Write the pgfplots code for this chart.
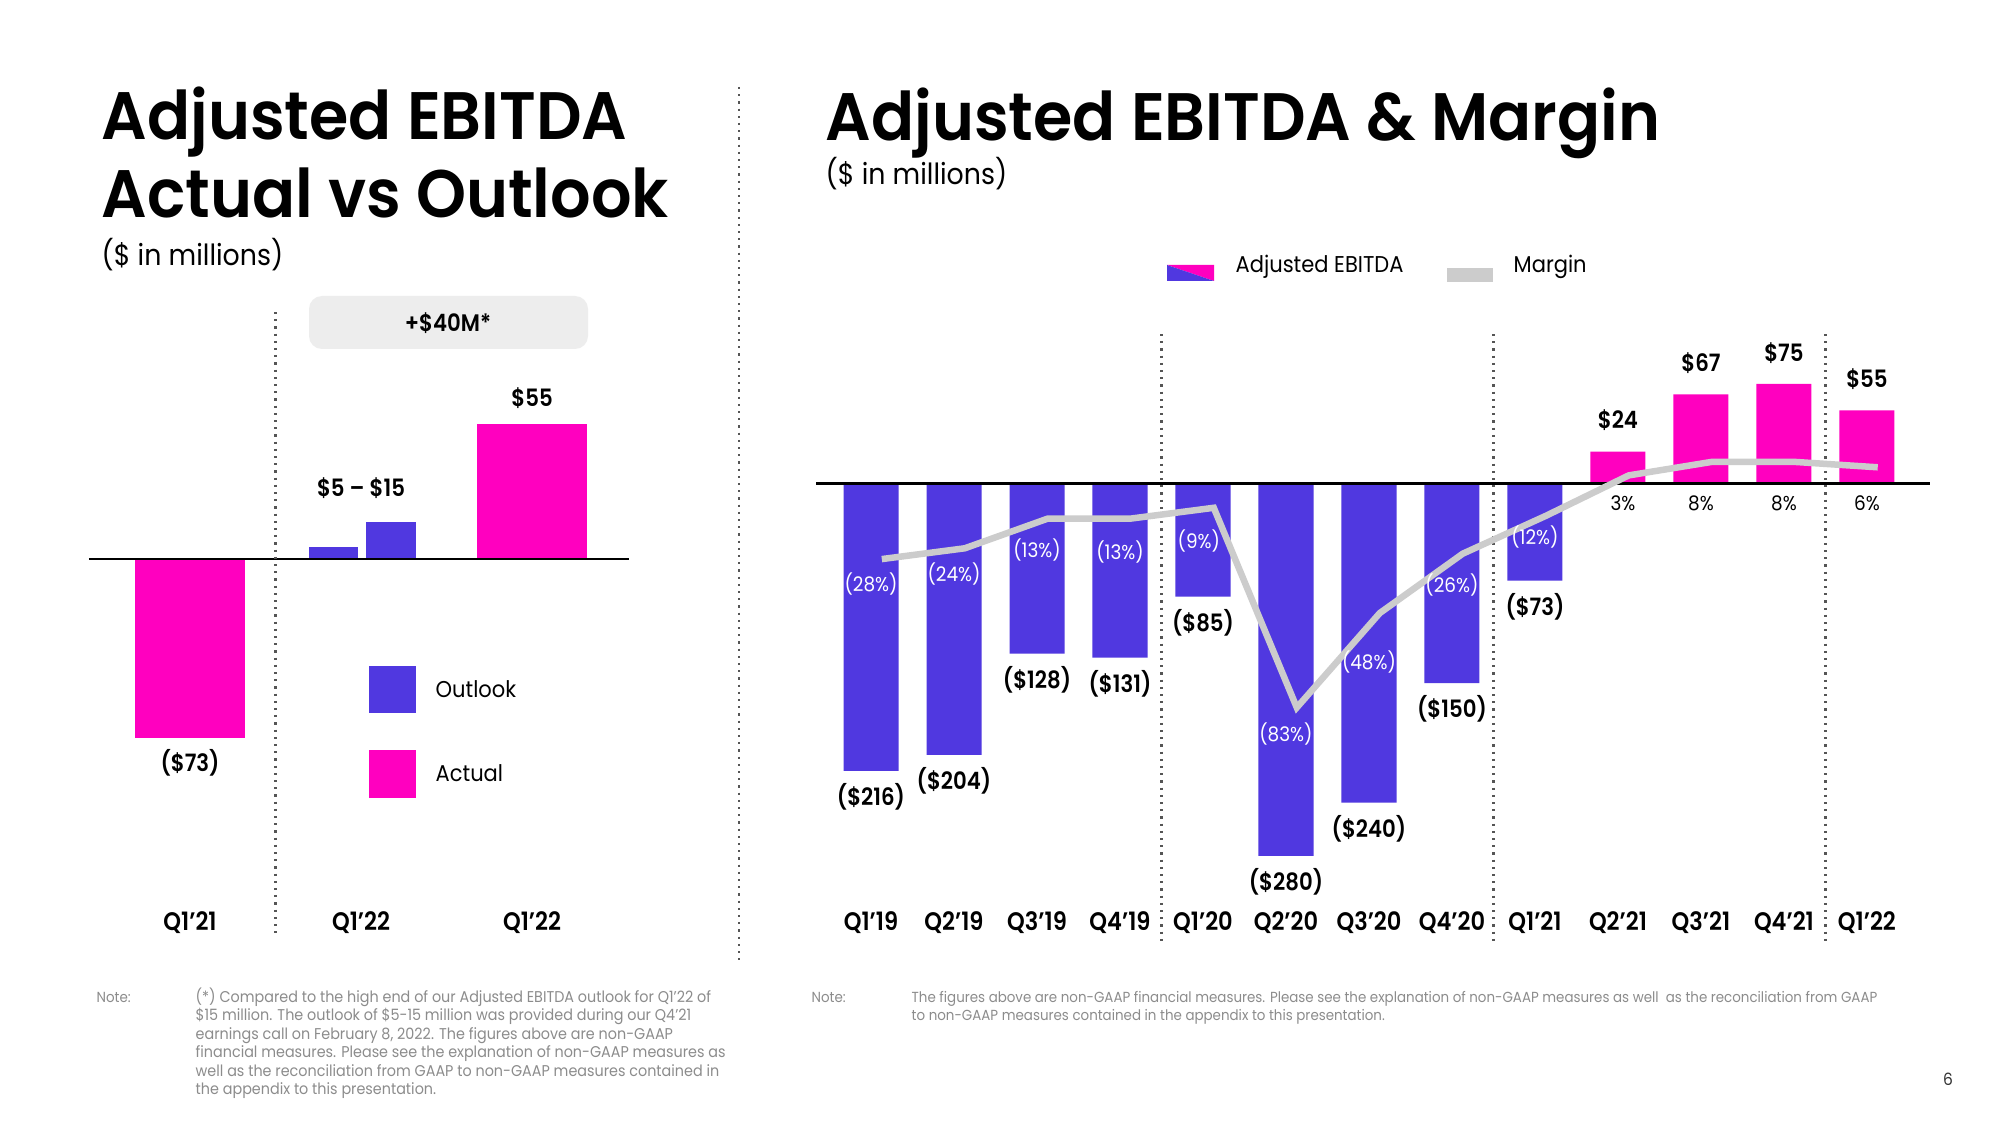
\documentclass[border=0pt]{standalone}
\usepackage{pgfplots}
\pgfplotsset{compat=1.18}
\usepackage{fontspec}
\setmainfont{Poppins}[FakeStretch=0.92]
\newfontfamily\titlefam{Poppins}[UprightFont={* SemiBold}, BoldFont={* SemiBold}, FakeStretch=0.948]
\newfontfamily\sbfam{Poppins}[UprightFont={* SemiBold}, BoldFont={* SemiBold}, FakeStretch=0.89]
\definecolor{ublue}{HTML}{5038E0}
\definecolor{upink}{HTML}{FF00BF}
\definecolor{ugray}{HTML}{CCCCCC}
\definecolor{notegray}{HTML}{8C8C8C}
\definecolor{boxgray}{HTML}{EDEDED}
\definecolor{dotgray}{HTML}{555555}
\newcommand\titlefont{\fontsize{19.1}{22}\selectfont\titlefam}
\newcommand\subfont{\fontsize{8.3}{9}\selectfont}
\newcommand\tickfont{\fontsize{7.2}{8}\selectfont\sbfam}
\newcommand\valfont{\fontsize{6.8}{8}\selectfont\sbfam}
\newcommand\pctfont{\fontsize{5.7}{7}\selectfont}
\newcommand\legfont{\fontsize{6.5}{8}\selectfont}
\newcommand\notefont{\fontsize{4.15}{5.2}\selectfont}
\newcommand\lnotefont{\fontsize{4.44}{5.2}\selectfont}
\tikzset{dots/.style={dotgray, line width=0.022cm, dash pattern=on 0.022cm off 0.05cm}}
\pgfplotsset{slide/.style={anchor=south west, scale only axis, axis line style={draw=none},
  major tick length=0pt, ytick=\empty, clip=false,
  xticklabel style={anchor=center, inner sep=0pt, font=\tickfont}}}
\begin{document}
\begin{tikzpicture}
\useasboundingbox[fill=white] (0,0) rectangle (20,11.25);

% ---------- titles ----------
\node[anchor=base west, inner sep=0] at (1.01,9.85) {\titlefont Adjusted EBITDA};
\node[anchor=base west, inner sep=0] at (1.01,9.07) {\titlefont Actual vs Outlook};
\node[anchor=west, inner sep=0] at (1.01,8.70) {\subfont (\$ in millions)};
\node[anchor=base west, inner sep=0] at (8.25,9.84) {\titlefont Adjusted EBITDA \& Margin};
\node[anchor=west, inner sep=0] at (8.25,9.515) {\subfont (\$ in millions)};

% separator
\draw[dots] (7.39,10.38) -- (7.39,1.62);

% ---------- left chart ----------
\fill[boxgray, rounded corners=0.13cm] (3.09,8.29) rectangle (5.88,7.76);
\node[inner sep=0] at (4.48,8.02) {\valfont +\$40M*};

\begin{axis}[slide, at={(0.89cm,2.02cm)}, width=5.40cm, height=5.355cm,
  xmin=-0.591, xmax=2.567, ymin=-148.6, ymax=70,
  xtick={0,1,2}, xticklabels={Q1’21,Q1’22,Q1’22}]
\addplot[ybar, bar width=0.643, bar shift=0, fill=upink, draw=none,
  nodes near coords, point meta=explicit symbolic,
  nodes near coords style={anchor=center, yshift=-0.25cm, font=\valfont, text=black}]
  coordinates {(0,-73) [(\$73)]};
\addplot[ybar, bar width=0.292, bar shift=-0.161, fill=ublue, draw=none] coordinates {(1,5)};
\addplot[ybar, bar width=0.292, bar shift=0.175, fill=ublue, draw=none] coordinates {(1,15)};
\addplot[ybar, bar width=0.643, bar shift=0, fill=upink, draw=none,
  nodes near coords, point meta=explicit symbolic,
  nodes near coords style={anchor=center, yshift=0.26cm, font=\valfont, text=black}]
  coordinates {(2,55) [\$55]};
\node[font=\valfont, inner sep=0, yshift=0.34cm] at (axis cs:1,15) {\$5 – \$15};
\draw[black, line width=0.025cm] (axis cs:-0.591,0) -- (axis cs:2.567,0);
\draw[dots] (axis cs:0.5,100.8) -- (axis cs:0.5,-154.3);
\end{axis}

% left legend
\fill[ublue] (3.69,4.59) rectangle (4.16,4.12);
\node[anchor=west, inner sep=0] at (4.35,4.36) {\legfont Outlook};
\fill[upink] (3.69,3.75) rectangle (4.16,3.27);
\node[anchor=west, inner sep=0] at (4.35,3.52) {\legfont Actual};

% ---------- right chart ----------
\begin{axis}[slide, at={(8.16cm,2.02cm)}, width=11.14cm, height=5.725cm,
  xmin=-0.663, xmax=12.76, ymin=-330.45, ymax=100,
  xtick={0,...,12},
  xticklabels={Q1’19,Q2’19,Q3’19,Q4’19,Q1’20,Q2’20,Q3’20,Q4’20,Q1’21,Q2’21,Q3’21,Q4’21,Q1’22}]
\addplot[ybar, bar width=0.663, bar shift=0, fill=ublue, draw=none,
  nodes near coords, point meta=explicit symbolic,
  nodes near coords style={anchor=center, yshift=-0.26cm, font=\valfont, text=black}]
  coordinates {(0,-216) [(\$216)] (1,-204) [(\$204)] (2,-128) [(\$128)] (3,-131) [(\$131)]
    (4,-85) [(\$85)] (5,-280) [(\$280)] (6,-240) [(\$240)] (7,-150) [(\$150)] (8,-73) [(\$73)]};
\addplot[ybar, bar width=0.663, bar shift=0, fill=upink, draw=none,
  nodes near coords, point meta=explicit symbolic,
  nodes near coords style={anchor=center, yshift=0.31cm, font=\valfont, text=black}]
  coordinates {(9,24) [\$24] (10,67) [\$67] (11,75) [\$75] (12,55) [\$55]};
\draw[black, line width=0.025cm] (axis cs:-0.663,0) -- (axis cs:12.76,0);
\draw[dots] (axis cs:3.5,112.4) -- (axis cs:3.5,-346.2);
\draw[dots] (axis cs:7.5,112.4) -- (axis cs:7.5,-346.2);
\draw[dots] (axis cs:11.5,112.4) -- (axis cs:11.5,-346.2);
\end{axis}

% margin line (own scale)
\begin{axis}[slide, hide axis, at={(8.16cm,2.02cm)}, width=11.14cm, height=5.725cm,
  xmin=-0.793, xmax=12.63, ymin=-162.8, ymax=49.26]
\addplot[ugray, line width=0.065cm, mark=none]
  coordinates {(0,-28) (1,-24) (2,-13) (3,-13) (4,-9) (5,-83) (6,-48) (7,-26) (8,-12)
    (9,3) (10,8) (11,8) (12,6)};
\begin{scope}[every node/.style={inner sep=0, font=\pctfont, xshift=-0.108cm}]
\node[white] at (axis cs:0,-37.2) {(28\%)};
\node[white] at (axis cs:1,-33.5) {(24\%)};
\node[white] at (axis cs:2,-24.6) {(13\%)};
\node[white] at (axis cs:3,-25.4) {(13\%)};
\node[white] at (axis cs:3.95,-21.3) {(9\%)};
\node[white] at (axis cs:5,-92.8) {(83\%)};
\node[white] at (axis cs:6,-66.1) {(48\%)};
\node[white] at (axis cs:7,-37.6) {(26\%)};
\node[white] at (axis cs:8,-19.8) {(12\%)};
\node[black] at (axis cs:9.06,-7.2) {3\%};
\node[black] at (axis cs:10,-7.2) {8\%};
\node[black] at (axis cs:11,-7.2) {8\%};
\node[black] at (axis cs:12,-7.2) {6\%};
\end{scope}
\end{axis}

% right legend
\fill[upink] (11.67,8.60) -- (12.14,8.60) -- (12.14,8.44) -- cycle;
\fill[ublue] (11.67,8.60) -- (12.14,8.44) -- (11.67,8.44) -- cycle;
\node[anchor=west, inner sep=0] at (12.35,8.58) {\legfont Adjusted EBITDA};
\fill[ugray] (14.47,8.57) rectangle (14.93,8.43);
\node[anchor=west, inner sep=0] at (15.13,8.58) {\legfont Margin};

% ---------- notes ----------
\begin{scope}[every node/.style={anchor=base west, inner sep=0, font=\lnotefont, text=notegray}]
\node[font=\notefont] at (0.96,1.23) {Note:};
\node at (1.95,1.23) {(*) Compared to the high end of our Adjusted EBITDA outlook for Q1’22 of};
\node at (1.95,1.045) {\$15 million. The outlook of \$5-15 million was provided during our Q4’21};
\node at (1.95,0.86) {earnings call on February 8, 2022. The figures above are non-GAAP};
\node at (1.95,0.675) {financial measures. Please see the explanation of non-GAAP measures as};
\node at (1.95,0.49) {well as the reconciliation from GAAP to non-GAAP measures contained in};
\node at (1.95,0.305) {the appendix to this presentation.};
\end{scope}
\begin{scope}[every node/.style={anchor=base west, inner sep=0, font=\notefont, text=notegray}]
\node at (8.11,1.23) {Note:};
\node at (9.11,1.23) {The figures above are non-GAAP financial measures. Please see the explanation of non-GAAP measures as well\ \ as the reconciliation from GAAP};
\node at (9.11,1.045) {to non-GAAP measures contained in the appendix to this presentation.};
\end{scope}
\node[inner sep=0, font=\fontsize{4.8}{6}\selectfont, text=black!80] at (19.48,0.46) {6};
\end{tikzpicture}
\end{document}
